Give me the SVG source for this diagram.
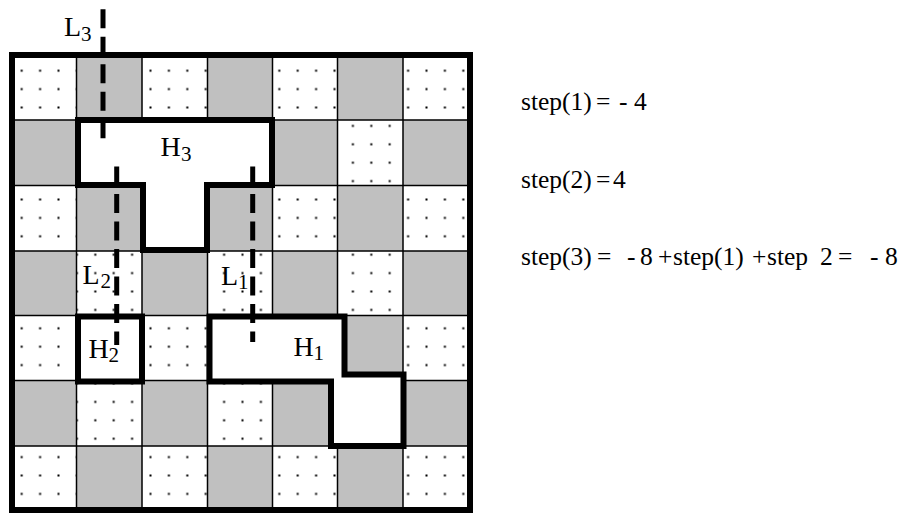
<svg xmlns="http://www.w3.org/2000/svg" width="920" height="514" viewBox="0 0 920 514">
<style>
.g{fill:#c0c0c0}
.d{fill:url(#dots)}
.gl{stroke:#000;stroke-width:1.5;fill:none}
.hole{fill:#fff;stroke:#000;stroke-width:6;stroke-linejoin:miter}
.dash{stroke:#000;stroke-width:5;stroke-dasharray:19 8.5;fill:none}
.lbl{font-family:"Liberation Serif","Times New Roman",serif;font-size:28px;fill:#000}
.sub{font-family:"Liberation Serif","Times New Roman",serif;font-size:21px;fill:#000}
.eq{font-family:"Liberation Serif","Times New Roman",serif;font-size:25.5px;fill:#000}
</style>
<defs>
<pattern id="dots" patternUnits="userSpaceOnUse" x="12.5" y="61.5" width="18.4" height="18.4">
<rect x="0" y="0" width="18.4" height="18.4" fill="#fff"/>
<rect x="8.2" y="8.2" width="2" height="2" fill="#000"/>
</pattern>
</defs>
<rect width="920" height="514" fill="#fff"/>
<g id="board">
<!-- row 0 -->
<rect class="d" x="12" y="55" width="64.5" height="65"/>
<rect class="g" x="76.5" y="55" width="65.5" height="65"/>
<rect class="d" x="142" y="55" width="65.5" height="65"/>
<rect class="g" x="207.5" y="55" width="65" height="65"/>
<rect class="d" x="272.5" y="55" width="65" height="65"/>
<rect class="g" x="337.5" y="55" width="65.5" height="65"/>
<rect class="d" x="403" y="55" width="67" height="65"/>
<!-- row 1 -->
<rect class="g" x="12" y="120" width="64.5" height="65.5"/>
<rect class="d" x="76.5" y="120" width="65.5" height="65.5"/>
<rect class="g" x="142" y="120" width="65.5" height="65.5"/>
<rect class="d" x="207.5" y="120" width="65" height="65.5"/>
<rect class="g" x="272.5" y="120" width="65" height="65.5"/>
<rect class="d" x="337.5" y="120" width="65.5" height="65.5"/>
<rect class="g" x="403" y="120" width="67" height="65.5"/>
<!-- row 2 -->
<rect class="d" x="12" y="185.5" width="64.5" height="65.5"/>
<rect class="g" x="76.5" y="185.5" width="65.5" height="65.5"/>
<rect class="d" x="142" y="185.5" width="65.5" height="65.5"/>
<rect class="g" x="207.5" y="185.5" width="65" height="65.5"/>
<rect class="d" x="272.5" y="185.5" width="65" height="65.5"/>
<rect class="g" x="337.5" y="185.5" width="65.5" height="65.5"/>
<rect class="d" x="403" y="185.5" width="67" height="65.5"/>
<!-- row 3 -->
<rect class="g" x="12" y="251" width="64.5" height="64.5"/>
<rect class="d" x="76.5" y="251" width="65.5" height="64.5"/>
<rect class="g" x="142" y="251" width="65.5" height="64.5"/>
<rect class="d" x="207.5" y="251" width="65" height="64.5"/>
<rect class="g" x="272.5" y="251" width="65" height="64.5"/>
<rect class="d" x="337.5" y="251" width="65.5" height="64.5"/>
<rect class="g" x="403" y="251" width="67" height="64.5"/>
<!-- row 4 -->
<rect class="d" x="12" y="315.5" width="64.5" height="65"/>
<rect class="g" x="76.5" y="315.5" width="65.5" height="65"/>
<rect class="d" x="142" y="315.5" width="65.5" height="65"/>
<rect class="g" x="207.5" y="315.5" width="65" height="65"/>
<rect class="d" x="272.5" y="315.5" width="65" height="65"/>
<rect class="g" x="337.5" y="315.5" width="65.5" height="65"/>
<rect class="d" x="403" y="315.5" width="67" height="65"/>
<!-- row 5 -->
<rect class="g" x="12" y="380.5" width="64.5" height="65.5"/>
<rect class="d" x="76.5" y="380.5" width="65.5" height="65.5"/>
<rect class="g" x="142" y="380.5" width="65.5" height="65.5"/>
<rect class="d" x="207.5" y="380.5" width="65" height="65.5"/>
<rect class="g" x="272.5" y="380.5" width="65" height="65.5"/>
<rect class="d" x="337.5" y="380.5" width="65.5" height="65.5"/>
<rect class="g" x="403" y="380.5" width="67" height="65.5"/>
<!-- row 6 -->
<rect class="d" x="12" y="446" width="64.5" height="64"/>
<rect class="g" x="76.5" y="446" width="65.5" height="64"/>
<rect class="d" x="142" y="446" width="65.5" height="64"/>
<rect class="g" x="207.5" y="446" width="65" height="64"/>
<rect class="d" x="272.5" y="446" width="65" height="64"/>
<rect class="g" x="337.5" y="446" width="65.5" height="64"/>
<rect class="d" x="403" y="446" width="67" height="64"/>
<path class="gl" d="M76.5 55V510M142 55V510M207.5 55V510M272.5 55V510M337.5 55V510M403 55V510M12 120H470M12 185.5H470M12 251H470M12 315.5H470M12 380.5H470M12 446H470"/>
</g>
<g id="H3">
<path class="hole" d="M78 120H272V185H207V250H143V185H78Z"/>
</g>
<g id="H2">
<rect class="hole" x="78" y="316.5" width="64" height="65"/>
</g>
<g id="H1">
<path class="hole" d="M209.5 316.5H344.5V374.5H403.5V446H331V381.5H209.5Z"/>
</g>
<rect id="border" x="12" y="55" width="458" height="455" fill="none" stroke="#000" stroke-width="6"/>
<g id="connectors">
<line id="L3-line" class="dash" x1="103" y1="9.3" x2="103" y2="140.3"/>
<line id="L2-line" class="dash" x1="116.7" y1="166.5" x2="116.7" y2="345"/>
<line id="L1-line" class="dash" x1="252.7" y1="166.5" x2="252.7" y2="342"/>
</g>
<g id="labels">
<text class="lbl" x="64" y="36">L</text><text class="sub" x="81" y="40.5">3</text>
<text class="lbl" x="160.5" y="156">H</text><text class="sub" x="181" y="161">3</text>
<text class="lbl" x="82.5" y="284">L</text><text class="sub" x="100.5" y="288">2</text>
<text class="lbl" x="88.5" y="358">H</text><text class="sub" x="108.5" y="361.5">2</text>
<text class="lbl" x="221" y="285">L</text><text class="sub" x="238" y="288.5">1</text>
<text class="lbl" x="293.5" y="356">H</text><text class="sub" x="313.5" y="359.5">1</text>
</g>
<g id="equations">
<text class="eq" y="110"><tspan x="521">step(1)</tspan><tspan x="596">=</tspan><tspan x="619">-</tspan><tspan x="634">4</tspan></text>
<text class="eq" y="188"><tspan x="521">step(2)</tspan><tspan x="596">=</tspan><tspan x="613">4</tspan></text>
<text class="eq" y="265"><tspan x="521">step(3)</tspan><tspan x="597">=</tspan><tspan x="627">-</tspan><tspan x="640">8</tspan><tspan x="658">+</tspan><tspan x="673">step(1)</tspan><tspan x="752">+</tspan><tspan x="767">step</tspan><tspan x="820">2</tspan><tspan x="838">=</tspan><tspan x="870">-</tspan><tspan x="885">8</tspan></text>
</g>
</svg>
